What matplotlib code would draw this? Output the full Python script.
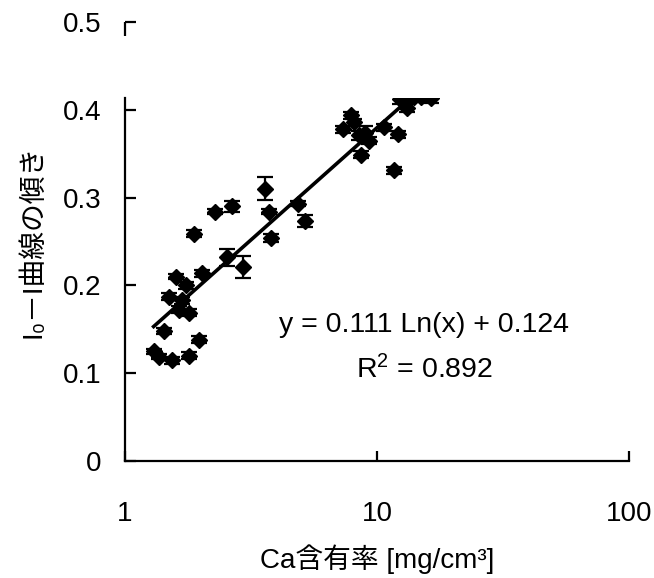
import matplotlib
matplotlib.use('Agg')
import matplotlib.pyplot as plt
import numpy as np
from matplotlib.patches import Rectangle

plt.rcParams['font.family'] = ['Liberation Sans', 'Noto Sans CJK JP', 'DejaVu Sans']
plt.rcParams['mathtext.fontset'] = 'custom'
plt.rcParams['mathtext.rm'] = 'Liberation Sans'
plt.rcParams['mathtext.it'] = 'Liberation Sans'

# Ca content [mg/cm3] vs slope of I0-I curve
ca = [1.30, 1.37, 1.43, 1.54, 1.79, 1.97, 1.50, 1.59, 1.68, 1.75,
      1.64, 1.80, 2.02, 1.88, 2.27, 2.65, 2.53, 2.93, 3.58, 3.73,
      3.78, 4.87, 5.18, 7.87, 7.30, 8.10, 8.50, 8.95, 8.60, 10.7,
      12.1, 11.7, 13.2, 12.3, 14.0, 15.0, 16.3, 9.3]
slope = [0.125, 0.119, 0.148, 0.115, 0.120, 0.138, 0.187, 0.210, 0.183, 0.200,
         0.172, 0.169, 0.214, 0.259, 0.284, 0.290, 0.232, 0.221, 0.310, 0.284,
         0.254, 0.293, 0.273, 0.394, 0.378, 0.386, 0.371, 0.374, 0.349, 0.380,
         0.372, 0.331, 0.402, 0.412, 0.414, 0.415, 0.413, 0.365]
err = [0.003, 0.003, 0.003, 0.004, 0.004, 0.004, 0.004, 0.003, 0.004, 0.004,
       0.004, 0.004, 0.004, 0.004, 0.003, 0.006, 0.010, 0.013, 0.013, 0.003,
       0.005, 0.003, 0.007, 0.004, 0.004, 0.004, 0.005, 0.008, 0.004, 0.004,
       0.004, 0.004, 0.005, 0.005, 0.005, 0.005, 0.005, 0.004]

fit_a, fit_b = 0.111, 0.124
fit_x = np.linspace(1.3, 16, 100)
fit_y = fit_a * np.log(fit_x) + fit_b

y_top = 0.413  # plot area is cut off here

fig = plt.figure(figsize=(6.54, 5.78), dpi=100)
ax = fig.add_axes([0.191, 0.2024, 0.771, 0.7596])

clip = Rectangle((1, 0), 99, y_top, transform=ax.transData)

eb = ax.errorbar(ca, slope, yerr=err, fmt='D', color='black', ms=8,
                 capsize=5.5, elinewidth=1.6, capthick=1.6)
for art in [eb.lines[0]] + list(eb.lines[1]) + list(eb.lines[2]):
    art.set_clip_path(clip)
ln, = ax.plot(fit_x, fit_y, color='black', lw=2.6)
ln.set_clip_path(clip)

ax.set_xscale('log')
ax.set_xlim(1, 100)
ax.set_ylim(0, 0.5)
ax.set_xticks([1, 10, 100])
ax.set_xticklabels(['1', '10', '100'])
ax.xaxis.set_minor_locator(matplotlib.ticker.NullLocator())
ax.set_yticks([0, 0.1, 0.2, 0.3, 0.4, 0.5])
ax.set_yticklabels(['0', '0.1', '0.2', '0.3', '0.4', '0.5'])

for s in ['top', 'right']:
    ax.spines[s].set_visible(False)
for s in ['left', 'bottom']:
    ax.spines[s].set_linewidth(1.6)
ax.spines['left'].set_bounds(0, y_top)
# short piece of axis at the 0.5 tick
ax.plot([1, 1], [0.484, 0.5], color='black', lw=1.6, clip_on=False,
        solid_capstyle='butt')

ax.tick_params(axis='x', direction='in', length=7, width=1.6, pad=29, labelsize=20)
ax.tick_params(axis='y', direction='in', length=8, width=1.6, pad=17, labelsize=20)

ax.text(15.4, 0.155, 'y = 0.111 Ln(x) + 0.124', ha='center', va='center', fontsize=20.5)
ax.text(15.4, 0.104, 'R$^2$ = 0.892', ha='center', va='center', fontsize=20.5)

ax.set_xlabel('Ca含有率 [mg/cm³]', fontsize=20, labelpad=12)
ax.set_ylabel('I₀－I曲線の傾き', fontsize=20, labelpad=12)

fig.savefig('out.png', dpi=100)
